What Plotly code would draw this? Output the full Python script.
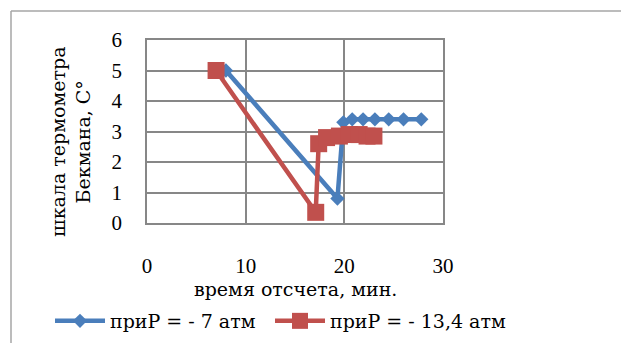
import plotly.graph_objects as go

# Readings of the Beckmann thermometer over time for two pressures
time_p7 = [8, 19.3, 19.9, 20.8, 21.9, 23.1, 24.5, 26.0, 27.8]
temp_p7 = [5.0, 0.8, 3.3, 3.4, 3.4, 3.4, 3.4, 3.4, 3.4]

time_p13 = [7, 17.1, 17.4, 18.2, 19.5, 20.5, 21.5, 22.3, 23.0]
temp_p13 = [5.0, 0.35, 2.6, 2.8, 2.85, 2.9, 2.9, 2.85, 2.85]

x_ticks = [0, 10, 20, 30]
y_ticks = [0, 1, 2, 3, 4, 5, 6]

name_p7 = "приP = - 7 атм"
name_p13 = "приP = - 13,4 атм"
x_title = "время отсчета, мин."
y_title = "шкала термометра<br>Бекмана, С°"

BLUE = "#4A7EBB"
RED = "#C0504D"
GRID = "#878787"
TICK_FONT = "Liberation Serif"
TEXT_FONT = "DejaVu Serif"

W, H = 621, 343
L, R, T, B = 147, 178, 40, 120
pw, ph = W - L - R, H - T - B


def px_x(p):
    return (p - L) / pw


def px_y(p):
    return (T + ph - p) / ph


fig = go.Figure()
fig.add_trace(go.Scatter(
    x=time_p7, y=temp_p7, mode="lines+markers", name=name_p7,
    line=dict(color=BLUE, width=4.5),
    marker=dict(symbol="diamond", size=11, color=BLUE),
    legend="legend",
))
fig.add_trace(go.Scatter(
    x=time_p13, y=temp_p13, mode="lines+markers", name=name_p13,
    line=dict(color=RED, width=4.5),
    marker=dict(symbol="square", size=17, color=RED),
    legend="legend2",
))

axis_common = dict(
    showgrid=True, gridcolor=GRID, gridwidth=1.5,
    showline=True, linecolor=GRID, linewidth=1.5, mirror=True,
    zeroline=False, ticks="",
    tickfont=dict(family=TICK_FONT, size=21, color="black"),
)
fig.update_xaxes(range=[0, 30], tickvals=x_ticks, ticklabelstandoff=23, **axis_common)
fig.update_yaxes(range=[0, 6], tickvals=y_ticks, ticklabelstandoff=19, **axis_common)

fig.add_annotation(
    text=x_title, xref="paper", yref="paper",
    x=0.5, y=px_y(289), xanchor="center", yanchor="middle",
    showarrow=False, font=dict(family=TEXT_FONT, size=19, color="black"),
)
fig.add_annotation(
    text=y_title, xref="paper", yref="paper", textangle=-90,
    x=px_x(70), y=px_y(142), xanchor="center", yanchor="middle",
    showarrow=False, font=dict(family=TEXT_FONT, size=19, color="black"),
)

# Outer chart frame (top and left edges)
fig.add_shape(type="line", xref="paper", yref="paper",
              x0=px_x(11), x1=px_x(W + 5), y0=px_y(11), y1=px_y(11),
              line=dict(color="#A6A6A6", width=1.5))
fig.add_shape(type="line", xref="paper", yref="paper",
              x0=px_x(11), x1=px_x(11), y0=px_y(11), y1=px_y(H + 5),
              line=dict(color="#A6A6A6", width=1.5))

legend_common = dict(
    orientation="h", yanchor="middle", y=px_y(321), xanchor="left",
    font=dict(family=TEXT_FONT, size=19, color="black"),
    itemwidth=50, bgcolor="rgba(0,0,0,0)",
)

fig.update_layout(
    width=W, height=H,
    margin=dict(l=L, r=R, t=T, b=B, autoexpand=False),
    paper_bgcolor="white", plot_bgcolor="white",
    showlegend=True,
    legend=dict(x=px_x(50), **legend_common),
    legend2=dict(x=px_x(270), **legend_common),
)

fig.write_html("out.html")
